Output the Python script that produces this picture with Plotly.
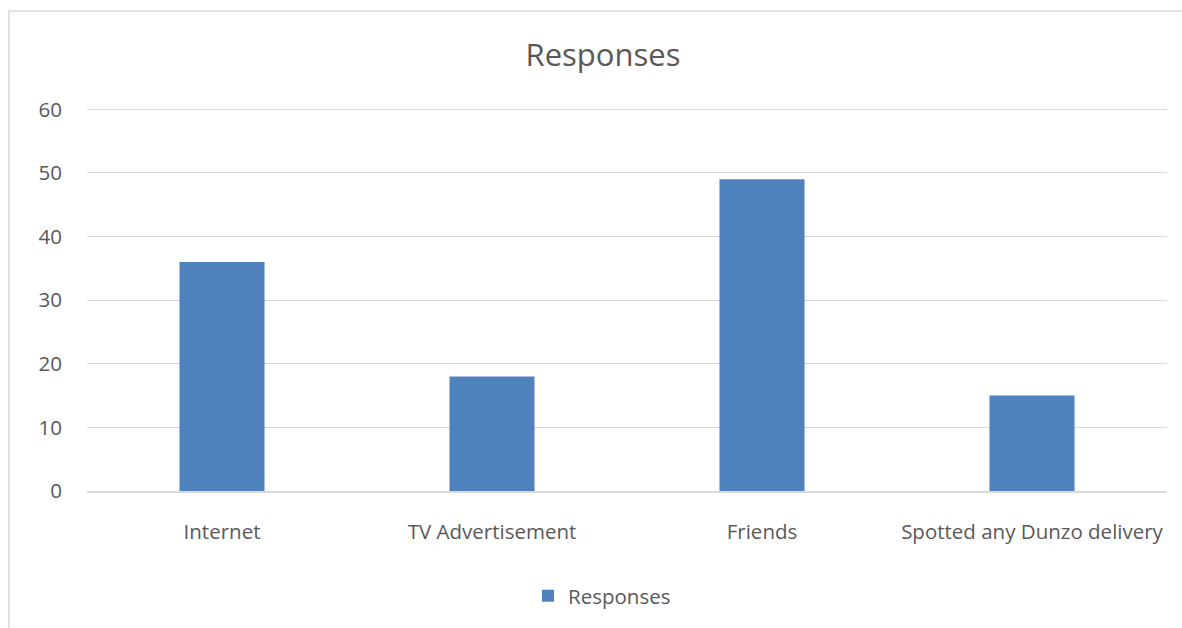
import plotly.graph_objects as go

categories = ["Internet", "TV Advertisement", "Friends", "Spotted any Dunzo delivery"]
responses = [36, 18, 49, 15]
y_ticks = [0, 10, 20, 30, 40, 50, 60]
y_max = 61  # a little headroom so the 60 gridline is drawn

BAR = "#4f81bd"
GRID = "#d9d9d9"
TEXT = "#595959"
FONT = "Open Sans"

W, H = 1182, 628
BASE_Y, TOP_Y = 491, 109  # pixel rows of 0 and 60
ML, MR, MB = 87, 15, H - BASE_Y
ph = (BASE_Y - TOP_Y) * y_max / 60
MT = H - MB - ph
pw = W - ML - MR

fig = go.Figure(
    go.Bar(
        x=categories,
        y=responses,
        name="Responses",
        marker=dict(color=BAR, line=dict(width=0)),
        showlegend=True,
    )
)

# outer chart frame, partly running off the right and bottom edges
fx0 = (9 - ML) / pw
fy1 = (BASE_Y - 10.5) / ph
fig.add_shape(
    type="path",
    path=f"M {fx0},-1 L {fx0},{fy1} L 1.5,{fy1}",
    xref="paper", yref="paper",
    line=dict(color=GRID, width=1.5),
    layer="below",
)

fig.update_layout(
    width=W, height=H,
    margin=dict(l=ML, r=MR, t=MT, b=MB),
    paper_bgcolor="white",
    plot_bgcolor="white",
    bargap=0.685,
    title=dict(
        text="Responses",
        x=(603 - ML) / pw, xref="paper", xanchor="center",
        y=1 - 55 / H, yanchor="middle", yref="container",
        font=dict(family=FONT, size=31, color=TEXT),
    ),
    font=dict(family=FONT, size=20.5, color=TEXT),
    legend=dict(
        orientation="h",
        x=(602 - ML) / pw, xanchor="center",
        y=-(596 - BASE_Y) / ph, yanchor="middle",
        font=dict(family=FONT, size=20.5, color=TEXT),
        itemwidth=30,
    ),
    xaxis=dict(
        showgrid=False,
        showline=True, linecolor=GRID, linewidth=1.5,
        ticks="", ticklabelstandoff=22,
        tickfont=dict(family=FONT, size=20.5, color=TEXT),
        fixedrange=True,
    ),
    yaxis=dict(
        range=[0, y_max],
        tickvals=y_ticks,
        showgrid=True, gridcolor=GRID, gridwidth=1.3,
        zeroline=False, showline=False,
        ticks="", ticklabelstandoff=24,
        tickfont=dict(family=FONT, size=20.5, color=TEXT),
        fixedrange=True,
    ),
)

fig.write_html("out.html")
